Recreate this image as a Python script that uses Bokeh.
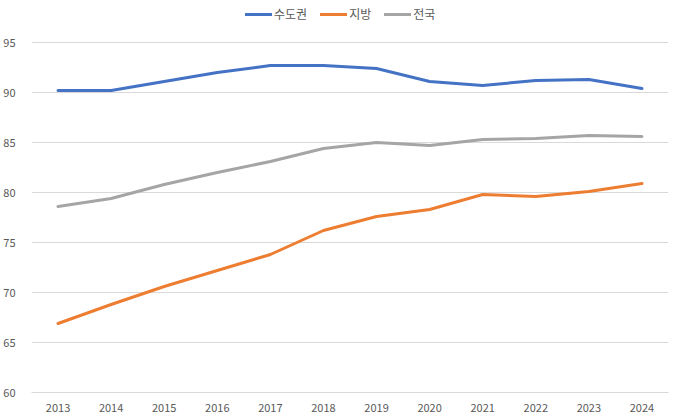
from bokeh.plotting import figure
from bokeh.models import Legend, LegendItem, FactorRange, FixedTicker
from bokeh.embed import file_html
from bokeh.resources import INLINE

# data
years = ["2013", "2014", "2015", "2016", "2017", "2018",
         "2019", "2020", "2021", "2022", "2023", "2024"]
capital = [90.2, 90.2, 91.1, 92.0, 92.7, 92.7, 92.4, 91.1, 90.7, 91.2, 91.3, 90.4]
regions = [66.9, 68.8, 70.6, 72.2, 73.8, 76.2, 77.6, 78.3, 79.8, 79.6, 80.1, 80.9]
nation = [78.6, 79.4, 80.8, 82.0, 83.1, 84.4, 85.0, 84.7, 85.3, 85.4, 85.7, 85.6]
y_ticks = [60, 65, 70, 75, 80, 85, 90, 95]

names = ["수도권", "지방", "전국"]
colors = ["#4472C4", "#ED7D31", "#A5A5A5"]

FONT = "Noto Sans CJK KR"

# frame runs to the top of the canvas so the legend sits inside it
p = figure(
    x_range=FactorRange(*years),
    y_range=(60, 99.2),
    width=678,
    height=418,
    output_backend="svg",
    toolbar_location=None,
    min_border_left=30,
    min_border_right=10,
    min_border_top=0,
    min_border_bottom=26,
)
p.outline_line_color = None
p.background_fill_color = "white"

renderers = []
for series, color in zip([capital, regions, nation], colors):
    r = p.line(years, series, line_color=color, line_width=3,
               line_join="round", line_cap="round")
    renderers.append(r)

# grid
p.xgrid.grid_line_color = None
p.ygrid.grid_line_color = "#D9D9D9"
p.ygrid.grid_line_width = 1
p.yaxis.ticker = FixedTicker(ticks=y_ticks)

# axes
for ax in (p.xaxis, p.yaxis):
    ax.major_tick_line_color = None
    ax.minor_tick_line_color = None
    ax.major_label_text_color = "#595959"
    ax.major_label_text_font = FONT
    ax.major_label_text_font_size = "11px"
p.yaxis.axis_line_color = None
p.xaxis.axis_line_color = "#D9D9D9"
p.yaxis.major_label_standoff = 10
p.xaxis.major_label_standoff = 5

legend = Legend(
    items=[LegendItem(label=n, renderers=[r]) for n, r in zip(names, renderers)],
    location=(214, 370),
    orientation="horizontal",
    glyph_width=27,
    glyph_height=14,
    label_height=14,
    label_standoff=2,
    spacing=13,
    padding=0,
    margin=0,
    border_line_color=None,
    background_fill_alpha=0,
    label_text_font=FONT,
    label_text_font_size="12px",
    label_text_color="#595959",
)
p.add_layout(legend, "center")

open("out.html", "w").write(file_html(p, INLINE))
